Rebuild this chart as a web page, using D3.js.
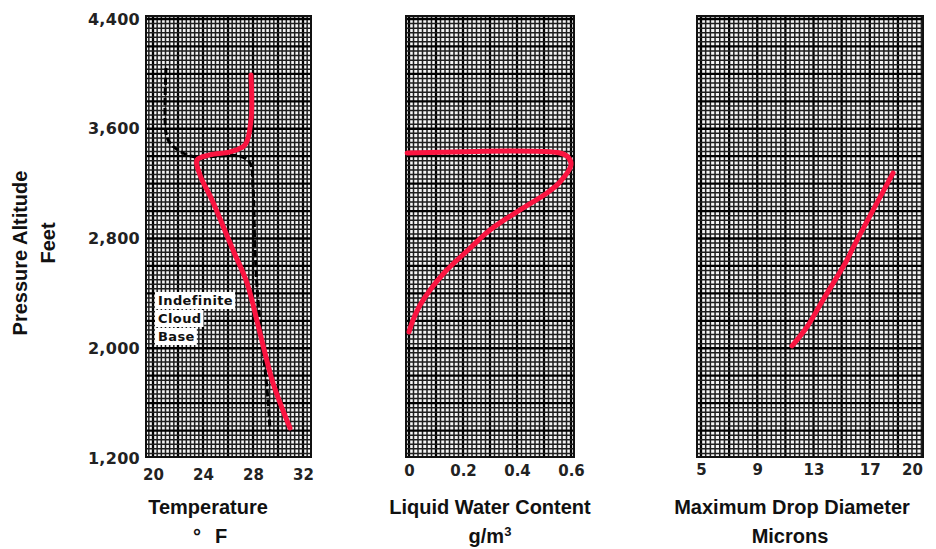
<!DOCTYPE html>
<html>
<head>
<meta charset="utf-8">
<script src="https://cdn.jsdelivr.net/npm/d3@7"></script>
<style>
  body { margin: 0; background: #fff; }
  svg { display: block; }
</style>
</head>
<body>
<div id="chart"></div>
<script>
// Tick labels
const altTicks = [1200, 2000, 2800, 3600, 4400];
const tempTicks = [20, 24, 28, 32];
const lwcTicks = [0, 0.2, 0.4, 0.6];
const dropTicks = [5, 9, 13, 17, 20];

// Series values: [x value, pressure altitude in feet]
const tempProfile = [
  [27.84, 3992], [27.84, 3664], [27.36, 3482], [26.16, 3431], [24.56, 3409],
  [23.52, 3372], [23.76, 3263], [24.72, 3081], [26.4, 2716], [27.52, 2476],
  [28.56, 2111], [29.6, 1747], [30.96, 1419]
];
const cloudBaseProfile = [
  [21.04, 4043], [21.04, 3569], [21.36, 3496], [22.4, 3423], [23.52, 3394],
  [26.96, 3401], [27.76, 3350], [28.0, 3175], [28.16, 2716], [28.4, 2352],
  [28.8, 1987], [29.2, 1623], [29.36, 1404]
];
const lwcProfile = [
  [-0.007, 3423], [0.559, 3423], [0.589, 3394], [0.600, 3336], [0.559, 3212],
  [0.511, 3132], [0.411, 3008], [0.300, 2862], [0.219, 2716], [0.133, 2556],
  [0.078, 2425], [0.041, 2315], [0.015, 2206], [0.0, 2119]
];
const dropProfile = [
  [11.47, 2017], [12.53, 2155], [13.67, 2352], [15.38, 2643], [15.80, 2731], [18.65, 3277]
];
const noteLines = ["Indefinite", "Cloud", "Base"];

const W = 936, H = 549;
const plotTop = 16, plotBottom = 457;
const red = "#fa1440";

const svg = d3.select("#chart").append("svg")
  .attr("width", W).attr("height", H);

// Shared altitude scale
const y = d3.scaleLinear().domain([1200, 4400]).range([458, 19]);

const panels = [
  { left: 146, right: 311, x: d3.scaleLinear().domain([20, 32]).range([153, 303]),
    ticks: tempTicks, fmt: d3.format("d"), minor: 1 / 3, anchor: 20, labelPad: 12,
    series: [{ data: tempProfile, color: red, width: 5 }] },
  { left: 406, right: 574, x: d3.scaleLinear().domain([0, 0.6]).range([409, 571]),
    ticks: lwcTicks, fmt: d => d === 0 ? "0" : d3.format(".1f")(d), minor: 1 / 60, anchor: 0, labelPad: 8,
    series: [{ data: lwcProfile, color: red, width: 5 }] },
  { left: 697, right: 923, x: d3.scaleLinear().domain([5, 20]).range([701, 912]),
    ticks: dropTicks, fmt: d3.format("d"), minor: 1 / 3, anchor: 5, labelPad: 7,
    series: [{ data: dropProfile, color: red, width: 5 }] }
];

panels.forEach((p, pi) => {
  const g = svg.append("g");
  const x = p.x;

  // graph paper background
  g.append("rect")
    .attr("x", p.left).attr("y", plotTop)
    .attr("width", p.right - p.left).attr("height", plotBottom - plotTop)
    .attr("fill", "#f4f4f4");

  const clipId = "clip" + pi;
  g.append("clipPath").attr("id", clipId)
    .append("rect")
    .attr("x", p.left).attr("y", plotTop)
    .attr("width", p.right - p.left).attr("height", plotBottom - plotTop);

  const grid = g.append("g").attr("clip-path", `url(#${clipId})`);

  // vertical grid lines, every 6th one heavy
  const x0 = x.invert(p.left), x1 = x.invert(p.right);
  const iStart = Math.ceil((x0 - p.anchor) / p.minor - 1e-6);
  const iEnd = Math.floor((x1 - p.anchor) / p.minor + 1e-6);
  const vLines = d3.range(iStart, iEnd + 1).map(i => ({ v: p.anchor + i * p.minor, major: ((i % 6) + 6) % 6 === 0 }));
  grid.selectAll(".vl").data(vLines).join("line")
    .attr("x1", d => x(d.v)).attr("x2", d => x(d.v))
    .attr("y1", plotTop).attr("y2", plotBottom)
    .attr("stroke", d => d.major ? "#000" : "#1e1e1e")
    .attr("stroke-width", d => d.major ? 2.3 : 1.5);

  // horizontal grid lines, 200 ft split into 6
  const hLines = d3.range(-1, 98).map(i => ({ v: 1200 + i * 200 / 6, major: ((i % 6) + 6) % 6 === 0 }));
  grid.selectAll(".hl").data(hLines).join("line")
    .attr("x1", p.left).attr("x2", p.right)
    .attr("y1", d => y(d.v)).attr("y2", d => y(d.v))
    .attr("stroke", d => d.major ? "#000" : "#1e1e1e")
    .attr("stroke-width", d => d.major ? 2.3 : 1.5);

  g.append("rect")
    .attr("x", p.left).attr("y", plotTop)
    .attr("width", p.right - p.left).attr("height", plotBottom - plotTop)
    .attr("fill", "none").attr("stroke", "#111").attr("stroke-width", 2);

  // x axis labels
  const xAxis = g.append("g")
    .attr("transform", `translate(0, ${plotBottom})`)
    .call(d3.axisBottom(x).tickValues(p.ticks).tickFormat(p.fmt).tickSize(0).tickPadding(p.labelPad));
  xAxis.select(".domain").remove();
  xAxis.selectAll("text")
    .style("font-family", "'DejaVu Sans', sans-serif")
    .style("font-weight", "bold")
    .style("font-size", "15px")
    .attr("fill", "#222");

  p.g = g;
});

// y axis labels on the first panel
const yAxis = svg.append("g")
  .attr("transform", `translate(${panels[0].left - 4}, 0)`)
  .call(d3.axisLeft(y).tickValues(altTicks).tickFormat(d3.format(",")).tickSize(0).tickPadding(2));
yAxis.select(".domain").remove();
yAxis.selectAll("text")
  .style("font-family", "'DejaVu Sans', sans-serif")
  .style("font-weight", "bold")
  .style("font-size", "16px")
  .style("letter-spacing", "0.3px")
  .attr("fill", "#222");

// Indefinite cloud base dashed line
const p0 = panels[0];
const line0 = d3.line().x(d => p0.x(d[0])).y(d => y(d[1])).curve(d3.curveCatmullRom.alpha(0.5));
p0.g.append("path")
  .datum(cloudBaseProfile)
  .attr("d", line0)
  .attr("fill", "none")
  .attr("stroke", "#000")
  .attr("stroke-width", 3)
  .attr("stroke-dasharray", "7,3");

// note with white boxes
const note = p0.g.append("g");
noteLines.forEach((t, i) => {
  const txt = note.append("text")
    .attr("x", 158).attr("y", 305 + i * 18)
    .style("font-family", "'DejaVu Sans', sans-serif")
    .style("font-weight", "bold")
    .style("font-size", "13px")
    .style("letter-spacing", "0.4px")
    .attr("fill", "#111")
    .text(t);
  const b = txt.node().getBBox();
  note.insert("rect", "text")
    .attr("x", b.x - 3).attr("y", b.y - 1)
    .attr("width", b.width + 5).attr("height", b.height + 2)
    .attr("fill", "#fff");
});

// red profile curves
panels.forEach(p => {
  const ln = d3.line().x(d => p.x(d[0])).y(d => y(d[1])).curve(d3.curveCatmullRom.alpha(0.5));
  p.series.forEach(s => {
    p.g.append("path")
      .datum(s.data)
      .attr("d", ln)
      .attr("fill", "none")
      .attr("stroke", s.color)
      .attr("stroke-width", s.width)
      .attr("stroke-linecap", "round")
      .attr("stroke-linejoin", "round");
  });
});

// axis titles
const titleFont = "'Liberation Sans', Arial, sans-serif";
const titles = [
  { x: 208, y: 514, t: "Temperature" },
  { x: 490, y: 514, t: "Liquid Water Content" },
  { x: 792, y: 514, t: "Maximum Drop Diameter" },
  { x: 790, y: 543, t: "Microns" }
];
titles.forEach(d => {
  svg.append("text")
    .attr("x", d.x).attr("y", d.y)
    .attr("text-anchor", "middle")
    .style("font-family", titleFont)
    .style("font-weight", "bold")
    .style("font-size", "20px")
    .attr("fill", "#111")
    .text(d.t);
});

svg.append("text")
  .attr("x", 197).attr("y", 543)
  .attr("text-anchor", "middle")
  .style("font-family", titleFont).style("font-weight", "bold").style("font-size", "20px")
  .attr("fill", "#111")
  .text("°");
svg.append("text")
  .attr("x", 221).attr("y", 543)
  .attr("text-anchor", "middle")
  .style("font-family", titleFont).style("font-weight", "bold").style("font-size", "20px")
  .attr("fill", "#111")
  .text("F");

const unit = svg.append("text")
  .attr("x", 490).attr("y", 543)
  .attr("text-anchor", "middle")
  .style("font-family", titleFont).style("font-weight", "bold").style("font-size", "20px")
  .attr("fill", "#111");
unit.append("tspan").text("g/m");
unit.append("tspan").attr("dy", -7).style("font-size", "13px").text("3");

// rotated y title
svg.append("text")
  .attr("transform", "translate(27, 253) rotate(-90)")
  .attr("text-anchor", "middle")
  .style("font-family", titleFont).style("font-weight", "bold").style("font-size", "20px")
  .attr("fill", "#111")
  .text("Pressure Altitude");
svg.append("text")
  .attr("transform", "translate(55, 243) rotate(-90)")
  .attr("text-anchor", "middle")
  .style("font-family", titleFont).style("font-weight", "bold").style("font-size", "20px")
  .attr("fill", "#111")
  .text("Feet");
</script>
</body>
</html>
